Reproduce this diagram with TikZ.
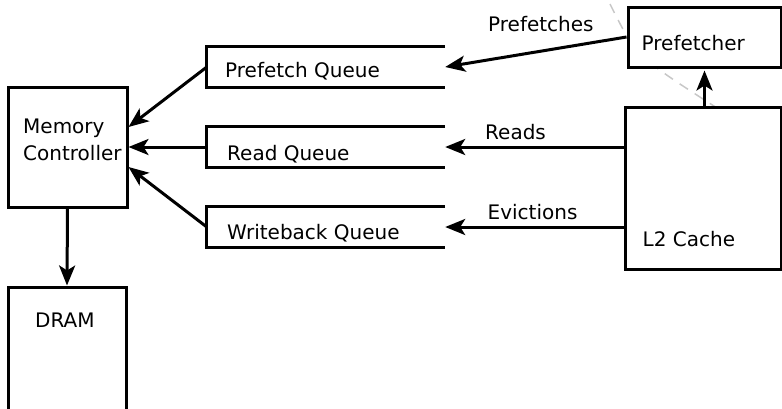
\documentclass[tikz,border=0pt]{standalone}
\usepackage{fontspec}
\setmainfont{DejaVu Sans}
\usetikzlibrary{arrows.meta,calc}
\begin{document}
\begin{tikzpicture}[x=1pt,y=-1pt,
  box/.style={draw,line width=3pt,fill=white,inner sep=0pt,minimum width=#1},
  qarea/.style={draw=none,inner sep=0pt,minimum width=238pt,minimum height=40pt},
  qline/.style={line width=3pt},
  lbl/.style={anchor=base west,inner sep=0pt,font=\fontsize{20}{27}\selectfont},
  conn/.style={line width=3pt,-{Stealth[length=20pt,width=16pt,inset=5pt]}},
  hint/.style={draw=black!22,line width=1.5pt,dash pattern=on 10pt off 8pt}
]
\useasboundingbox (0,0) rectangle (782,408);

% faint dashed arc, partly hidden behind the prefetcher
\draw[hint] (610,4) .. controls (636,56) .. (717,108);

% boxes
\node[box=119pt,minimum height=120pt] (mc) at (67.5,147) {};
\node[box=118pt,minimum height=123pt] (dram) at (67,348.5) {};
\node[box=153pt,minimum height=60pt] (pf) at (704.5,37) {};
\node[box=156.5pt,minimum height=162pt] (l2) at (703.25,188) {};

% queues, open on the right
\node[qarea] (pq) at (326,67) {};
\node[qarea] (rq) at (326,147) {};
\node[qarea] (wq) at (326,227) {};
\foreach \q in {pq,rq,wq}
  \draw[qline] (\q.north east) -- (\q.north west) -- (\q.south west) -- (\q.south east);

% texts
\node[lbl] (tmem) at (23,133) {Memory};
\node[lbl] (tctl) at (23,160) {Controller};
\node[lbl] (tdram) at (35,327) {DRAM};
\node[lbl] (tpq) at (225,77.5) {Prefetch Queue};
\node[lbl] (trq) at (227,160.5) {Read Queue};
\node[lbl] (twq) at (227,239) {Writeback Queue};
\node[lbl] (tpf) at (641.5,50) {Prefetcher};
\node[lbl] (tl2) at (642.5,246.7) {L2 Cache};
\node[lbl] (tpfs) at (488,31) {Prefetches};
\node[lbl] (trd) at (485,139.3) {Reads};
\node[lbl] (tev) at (487.5,219.3) {Evictions};

% connectors
\draw[conn] (pq.west) -- ([yshift=20pt]mc.east);
\draw[conn] (rq.west) -- (mc.east);
\draw[conn] (wq.west) -- ([yshift=-20pt]mc.east);
\draw[conn] (mc.south) -- (dram.north);
\draw[conn] (pf.west) -- (pq.east);
\draw[conn] (l2.west |- rq.east) -- (rq.east);
\draw[conn] (l2.west |- wq.east) -- (wq.east);
\draw[conn,shorten >=2pt] (pf.south |- l2.north) -- (pf.south);
\end{tikzpicture}
\end{document}
